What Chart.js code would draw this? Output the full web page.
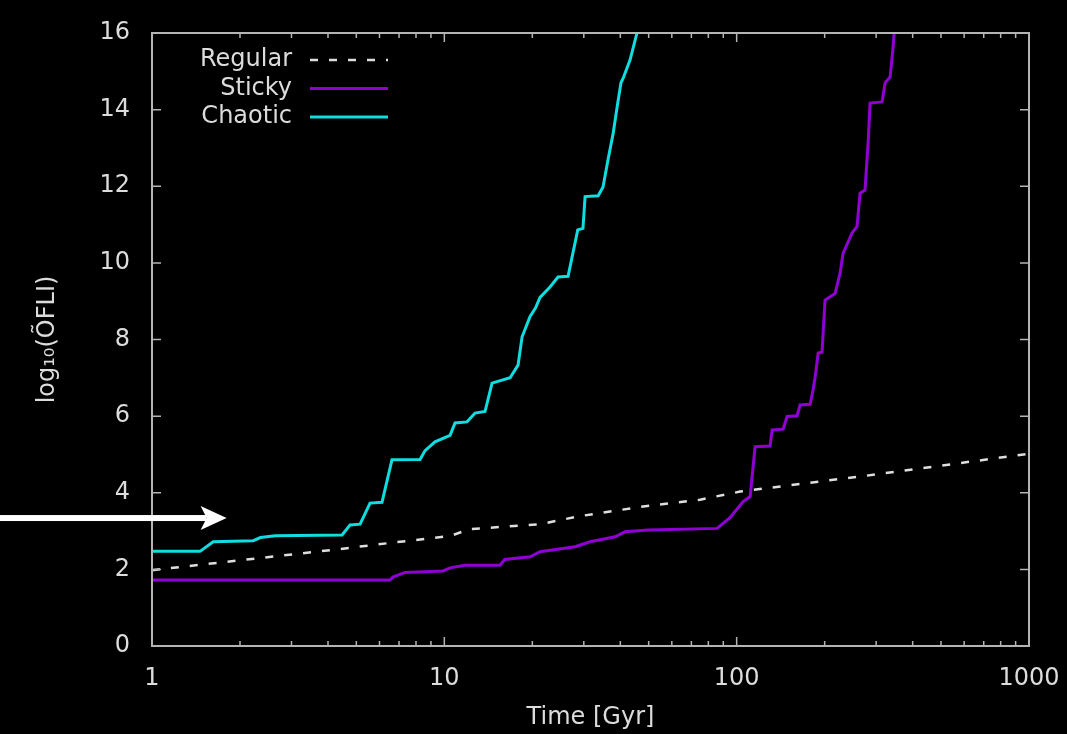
<!DOCTYPE html>
<html><head><meta charset="utf-8">
<script src="https://cdn.jsdelivr.net/npm/chart.js@4/dist/chart.umd.min.js"></script>
<style>html,body{margin:0;padding:0;background:#000;overflow:hidden}canvas{display:block}</style>
</head><body>
<canvas id="c" width="1067" height="734"></canvas>
<script>
// ---- data ----
const seriesNames = ['Regular', 'Sticky', 'Chaotic'];
const regularT = [1, 4.06, 6.52, 10.46, 12.2, 21.25, 29.1, 46.7, 75, 102.7, 164.8, 274.8, 841, 1000];
const regularY = [1.98, 2.5, 2.69, 2.87, 3.05, 3.18, 3.39, 3.63, 3.82, 4.03, 4.23, 4.44, 4.94, 5.02];
const stickyT = [1, 6.52, 6.67, 7.34, 9.9, 10.46, 11.77, 15.5, 16.1, 19.65, 21.25, 28, 31.5, 38.4, 41.5, 49.8, 85.7, 94.9, 105.2, 111.2, 115.6, 130.1, 132.2, 144.2, 148.7, 161, 164.8, 178.3, 182.5, 185.4, 190, 195.9, 200.6, 217.1, 225.8, 231.2, 248.1, 258.1, 264.3, 274.8, 281.6, 286, 314.3, 321.9, 334.9, 342.9, 345.6];
const stickyY = [1.72, 1.72, 1.8, 1.92, 1.96, 2.04, 2.11, 2.11, 2.26, 2.33, 2.46, 2.59, 2.72, 2.85, 2.98, 3.03, 3.07, 3.35, 3.77, 3.9, 5.2, 5.22, 5.64, 5.66, 5.99, 6.01, 6.29, 6.31, 6.68, 7.0, 7.65, 7.67, 9.03, 9.2, 9.73, 10.25, 10.78, 10.95, 11.82, 11.9, 13.13, 14.17, 14.2, 14.7, 14.85, 15.64, 16];
const chaoticT = [1, 1.46, 1.62, 2.22, 2.35, 2.64, 4.47, 4.76, 5.15, 5.57, 6.12, 6.62, 8.26, 8.59, 9.29, 10.46, 10.88, 11.96, 12.74, 13.78, 14.56, 16.79, 17.87, 18.45, 19.65, 20.5, 21.25, 22.99, 24.49, 26.5, 28.6, 29.8, 30.3, 33.6, 34.9, 36.3, 37.8, 39.0, 40.2, 40.9, 43.2, 45.6];
const chaoticY = [2.47, 2.47, 2.72, 2.75, 2.83, 2.88, 2.9, 3.16, 3.18, 3.73, 3.75, 4.86, 4.87, 5.1, 5.33, 5.5, 5.82, 5.85, 6.08, 6.12, 6.86, 7.0, 7.33, 8.07, 8.6, 8.82, 9.1, 9.37, 9.63, 9.65, 10.86, 10.9, 11.73, 11.75, 11.98, 12.69, 13.38, 14.07, 14.7, 14.82, 15.3, 16.0];
const xTicks = [1, 10, 100, 1000];
const yTicks = [0, 2, 4, 6, 8, 10, 12, 14, 16];
const arrowTip = { t: 1.8, y: 3.34 };

const FONT = 'DejaVu Sans';
const TEXT = '#dcdcdc';
const FRAME = '#b4b4b4';

const zip = (xs, ys) => xs.map((x, i) => ({ x, y: ys[i] }));

const framePlugin = {
  id: 'frame',
  beforeDraw(chart) {
    const c = chart.ctx;
    c.save(); c.fillStyle = '#000'; c.fillRect(0, 0, chart.width, chart.height); c.restore();
  },
  afterDatasetsDraw(chart) {
    const c = chart.ctx, a = chart.chartArea, xs = chart.scales.x, ys = chart.scales.y;
    c.save();
    c.strokeStyle = FRAME; c.lineWidth = 2;
    c.strokeRect(a.left, a.top, a.right - a.left, a.bottom - a.top);
    c.lineWidth = 1.5;
    c.beginPath();
    yTicks.forEach(v => {
      const p = ys.getPixelForValue(v);
      c.moveTo(a.left, p); c.lineTo(a.left + 9, p);
      c.moveTo(a.right, p); c.lineTo(a.right - 9, p);
    });
    for (let d = 0; d < xTicks.length; d++) {
      const base = xTicks[d];
      const p = xs.getPixelForValue(base);
      c.moveTo(p, a.bottom); c.lineTo(p, a.bottom - 9);
      c.moveTo(p, a.top); c.lineTo(p, a.top + 9);
      if (d < xTicks.length - 1) {
        for (let m = 2; m <= 9; m++) {
          const q = xs.getPixelForValue(base * m);
          c.moveTo(q, a.bottom); c.lineTo(q, a.bottom - 5);
          c.moveTo(q, a.top); c.lineTo(q, a.top + 5);
        }
      }
    }
    c.stroke();

    // legend
    c.font = '24px ' + FONT;
    c.textAlign = 'right'; c.textBaseline = 'middle';
    chart.data.datasets.forEach((ds, i) => {
      const ty = a.top + 27 + i * 28.5;
      c.fillStyle = TEXT;
      c.fillText(ds.label, a.left + 140, ty);
      c.strokeStyle = ds.borderColor; c.lineWidth = ds.borderWidth;
      c.setLineDash(ds.borderDash || []);
      c.beginPath(); c.moveTo(a.left + 158, ty); c.lineTo(a.left + 236, ty); c.stroke();
      c.setLineDash([]);
    });

    // arrow annotation
    const tx = xs.getPixelForValue(arrowTip.t), ty = ys.getPixelForValue(arrowTip.y);
    c.fillStyle = '#ffffff';
    c.fillRect(0, ty - 3, tx - 20, 6);
    c.beginPath();
    c.moveTo(tx, ty);
    c.lineTo(tx - 26, ty - 12);
    c.lineTo(tx - 20, ty);
    c.lineTo(tx - 26, ty + 12);
    c.closePath(); c.fill();
    c.restore();
  }
};

new Chart(document.getElementById('c'), {
  type: 'line',
  data: {
    datasets: [
      { label: seriesNames[0], data: zip(regularT, regularY), borderColor: '#dedede', borderWidth: 2.5, borderDash: [8, 11] },
      { label: seriesNames[1], data: zip(stickyT, stickyY), borderColor: '#9000d4', borderWidth: 3 },
      { label: seriesNames[2], data: zip(chaoticT, chaoticY), borderColor: '#10dde0', borderWidth: 3 }
    ]
  },
  options: {
    responsive: false,
    animation: false,
    devicePixelRatio: 1,
    layout: { padding: { left: 0, right: 38, top: 33, bottom: 0 } },
    elements: { point: { radius: 0 }, line: { tension: 0 } },
    plugins: { legend: { display: false }, tooltip: { enabled: false } },
    scales: {
      x: {
        type: 'logarithmic', min: 1, max: 1000,
        afterBuildTicks: s => { s.ticks = xTicks.map(v => ({ value: v })); },
        afterFit: s => { s.height = 88; s.paddingLeft = 0; s.paddingRight = 0; s.paddingTop = 0; s.paddingBottom = 0; },
        grid: { display: false, drawTicks: false },
        border: { display: false },
        ticks: { color: TEXT, font: { family: FONT, size: 24 }, padding: 18, maxRotation: 0, autoSkip: false, callback: v => String(v) },
        title: { display: true, text: 'Time [Gyr]', color: TEXT, font: { family: FONT, size: 24, lineHeight: 1.2 }, padding: { top: 0, bottom: 2 } }
      },
      y: {
        type: 'linear', min: 0, max: 16,
        afterBuildTicks: s => { s.ticks = yTicks.map(v => ({ value: v })); },
        afterFit: s => { s.width = 152; s.paddingLeft = 0; s.paddingRight = 0; s.paddingTop = 0; s.paddingBottom = 0; },
        grid: { display: false, drawTicks: false },
        border: { display: false },
        ticks: { color: TEXT, font: { family: FONT, size: 24 }, padding: 22, callback: v => String(v) },
        title: { display: true, text: 'log₁₀(ÕFLI)', color: TEXT, font: { family: FONT, size: 24, lineHeight: 1.2 }, padding: { top: 33, bottom: 0 } }
      }
    }
  },
  plugins: [framePlugin]
});
</script>
</body></html>
